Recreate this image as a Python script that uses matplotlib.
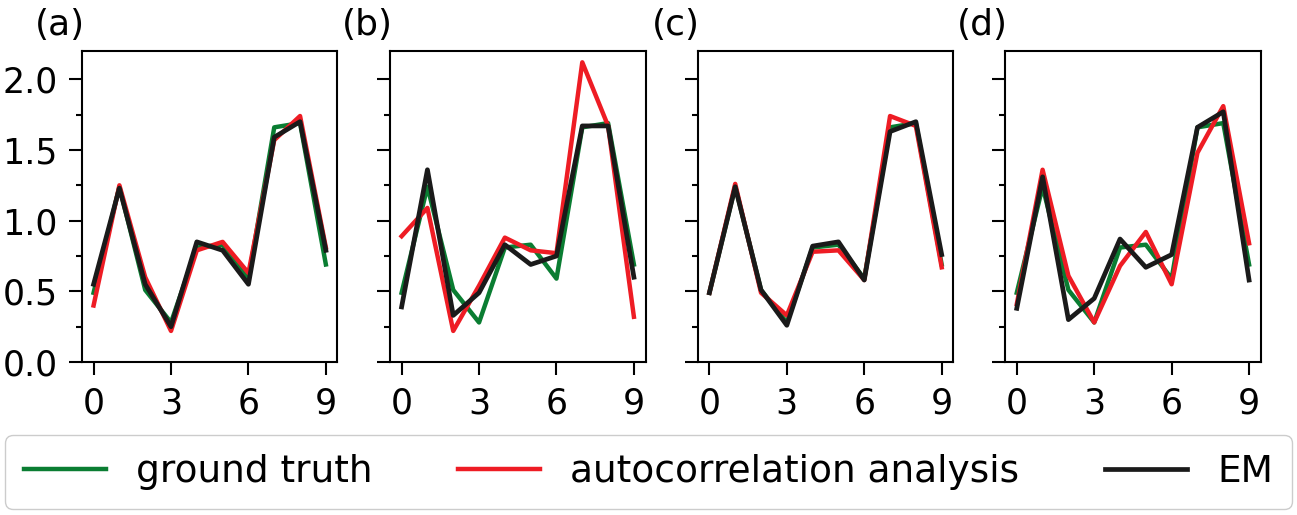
import numpy as np
import matplotlib
matplotlib.use("Agg")
import matplotlib.pyplot as plt
from matplotlib.ticker import MultipleLocator

x = np.arange(10)

# ground truth (same in every panel)
ground_truth = [0.49, 1.24, 0.51, 0.28, 0.81, 0.83, 0.59, 1.66, 1.69, 0.69]

# autocorrelation analysis, one per panel
auto_a = [0.40, 1.25, 0.60, 0.22, 0.79, 0.85, 0.63, 1.57, 1.74, 0.81]
auto_b = [0.89, 1.09, 0.22, 0.54, 0.88, 0.79, 0.77, 2.12, 1.67, 0.32]
auto_c = [0.49, 1.26, 0.49, 0.33, 0.78, 0.79, 0.58, 1.74, 1.67, 0.67]
auto_d = [0.41, 1.36, 0.61, 0.28, 0.68, 0.92, 0.55, 1.48, 1.81, 0.84]

# EM, one per panel
em_a = [0.55, 1.23, 0.55, 0.25, 0.85, 0.79, 0.55, 1.59, 1.70, 0.79]
em_b = [0.39, 1.36, 0.33, 0.49, 0.83, 0.69, 0.75, 1.67, 1.67, 0.60]
em_c = [0.49, 1.24, 0.51, 0.26, 0.82, 0.85, 0.58, 1.63, 1.70, 0.76]
em_d = [0.38, 1.31, 0.30, 0.45, 0.87, 0.67, 0.76, 1.66, 1.77, 0.58]

panel_labels = ['(a)', '(b)', '(c)', '(d)']
auto_all = [auto_a, auto_b, auto_c, auto_d]
em_all = [em_a, em_b, em_c, em_d]

green = '#0a7d32'
red = '#ee1c24'
black = '#1a1a1a'

plt.rcParams['font.size'] = 25

fig = plt.figure(figsize=(12.97, 5.15), dpi=100)
lefts = [0.0632, 0.3007, 0.538, 0.775]

for i in range(4):
    ax = fig.add_axes([lefts[i], 0.297, 0.197, 0.604])
    l1, = ax.plot(x, ground_truth, color=green, lw=3.2, label='ground truth')
    l2, = ax.plot(x, auto_all[i], color=red, lw=3.2, label='autocorrelation analysis')
    l3, = ax.plot(x, em_all[i], color=black, lw=3.4, label='EM')
    ax.set_xlim(-0.45, 9.45)
    ax.set_ylim(0, 2.2)
    ax.set_xticks([0, 3, 6, 9])
    ax.yaxis.set_major_locator(MultipleLocator(0.5))
    ax.yaxis.set_minor_locator(MultipleLocator(0.25))
    ax.tick_params(which='major', length=9.5, width=1.5, pad=8, labelsize=25)
    ax.tick_params(which='minor', length=4.5, width=1.5)
    if i > 0:
        ax.set_yticklabels([])
    for s in ax.spines.values():
        s.set_linewidth(1.5)
    ax.text(0.01, 1.03, panel_labels[i], transform=ax.transAxes, ha='right', va='bottom', fontsize=26)

fig.legend(handles=[l1, l2, l3], loc='lower center', ncol=3, mode='expand',
           bbox_to_anchor=(0.004, 0.012, 0.992, 0.136), fontsize=27,
           handlelength=2.2, handletextpad=0.8, borderpad=0.5, borderaxespad=0,
           framealpha=1, edgecolor='#cccccc')

fig.savefig('out.png', dpi=100)
